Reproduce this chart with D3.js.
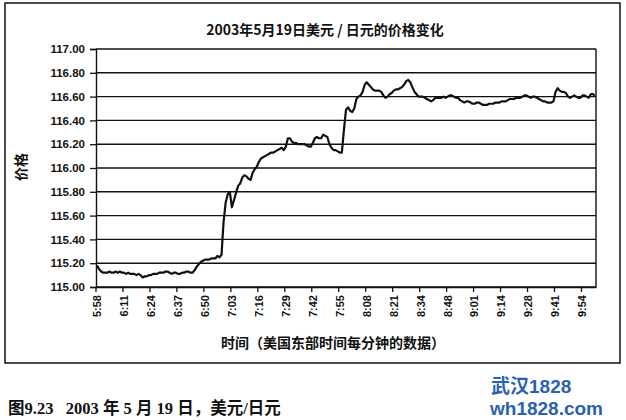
<!DOCTYPE html>
<html><head><meta charset="utf-8">
<script src="https://cdn.jsdelivr.net/npm/d3@7"></script>
<style>body{margin:0;background:#fff;}svg{display:block;}</style>
</head><body>
<script>
const title = "2003年5月19日美元 / 日元的价格变化";
const yTitle = "价格";
const xTitle = "时间（美国东部时间每分钟的数据）";
const caption = "图9.23   2003 年 5 月 19 日，美元/日元";
const startTime = "5:58";
const skippedMinutes = ["8:40", "9:20"];
const tickLabels = ["5:58","6:11","6:24","6:37","6:50","7:03","7:16","7:29","7:42","7:55","8:08","8:21","8:34","8:48","9:01","9:14","9:28","9:41","9:54"];
const yTicks = [115.00,115.20,115.40,115.60,115.80,116.00,116.20,116.40,116.60,116.80,117.00];
const prices = [
115.18,115.15,115.13,115.12,115.12,115.12,115.13,115.12,115.12,115.13,
115.12,115.13,115.12,115.12,115.11,115.12,115.11,115.11,115.11,115.10,
115.11,115.10,115.08,115.09,115.09,115.10,115.10,115.11,115.11,115.11,
115.12,115.12,115.12,115.13,115.13,115.12,115.11,115.12,115.12,115.11,
115.11,115.12,115.12,115.13,115.13,115.12,115.12,115.14,115.17,115.19,
115.21,115.22,115.23,115.23,115.23,115.24,115.24,115.24,115.26,115.25,
115.27,115.55,115.71,115.78,115.80,115.67,115.73,115.79,115.85,115.87,
115.92,115.94,115.93,115.91,115.90,115.96,115.99,116.01,116.05,116.08,
116.09,116.10,116.11,116.12,116.13,116.13,116.14,116.15,116.16,116.17,
116.15,116.18,116.25,116.25,116.22,116.21,116.21,116.20,116.20,116.20,
116.20,116.19,116.18,116.18,116.21,116.25,116.26,116.25,116.25,116.28,
116.27,116.26,116.20,116.17,116.15,116.15,116.14,116.13,116.13,116.32,
116.49,116.51,116.48,116.47,116.50,116.58,116.60,116.61,116.64,116.70,
116.72,116.70,116.68,116.66,116.65,116.65,116.65,116.64,116.61,116.59,
116.60,116.62,116.63,116.65,116.66,116.66,116.67,116.68,116.70,116.73,
116.74,116.72,116.68,116.64,116.62,116.60,116.60,116.60,116.59,116.58,
116.57,116.56,116.57,116.59,116.59,116.59,116.59,116.60,116.59,116.60,
116.61,116.61,116.60,116.59,116.59,116.57,116.56,116.55,116.56,116.56,
116.55,116.54,116.54,116.55,116.55,116.54,116.53,116.53,116.53,116.54,
116.54,116.54,116.55,116.55,116.55,116.56,116.56,116.56,116.57,116.58,
116.58,116.58,116.59,116.59,116.59,116.60,116.61,116.61,116.60,116.59,
116.60,116.60,116.59,116.58,116.57,116.56,116.56,116.55,116.55,116.55,
116.56,116.64,116.67,116.65,116.64,116.64,116.63,116.60,116.59,116.60,
116.61,116.60,116.59,116.59,116.61,116.61,116.60,116.59,116.62,116.62,
116.61
];

// build minute categories (one per price), skipping missing minutes
function toMin(s){const [h,m]=s.split(":").map(Number);return h*60+m;}
function fmt(t){return Math.floor(t/60)+":"+String(t%60).padStart(2,"0");}
const categories = [];
{ let t = toMin(startTime);
  while (categories.length < prices.length) {
    const s = fmt(t);
    if (!skippedMinutes.includes(s)) categories.push(s);
    t++;
  }
}
const data = categories.map((c,i)=>({t:c, v:prices[i]}));

const W=626,H=420;
const svg=d3.select("body").append("svg").attr("width",W).attr("height",H);
const latin='"Liberation Sans", Arial, "Noto Sans CJK SC", sans-serif';
const cjk='"Noto Sans CJK SC", "Liberation Sans", sans-serif';

// outer frame
svg.append("rect").attr("x",5).attr("y",3).attr("width",615).attr("height",360)
  .attr("fill","none").attr("stroke","#111").attr("stroke-width",1.5);

const L=96,R=596,T=49,B=287;
const x=d3.scaleBand().domain(categories).range([L,R]).paddingInner(0).paddingOuter(0);
const y=d3.scaleLinear().domain([115,117]).range([B,T]);
const cx=c=>x(c)+x.bandwidth()/2;

// gridlines
svg.append("g").selectAll("line").data(yTicks).join("line")
  .attr("x1",L).attr("x2",R).attr("y1",d=>y(d)).attr("y2",d=>y(d))
  .attr("stroke","#111").attr("stroke-width",1.4);
// right border
svg.append("line").attr("x1",R).attr("x2",R).attr("y1",T).attr("y2",B).attr("stroke","#111").attr("stroke-width",1.4);

// y axis
const yAxis=svg.append("g").attr("transform",`translate(${L},0)`)
  .call(d3.axisLeft(y).tickValues(yTicks).tickFormat(d3.format(".2f")).tickSize(6).tickPadding(5));
yAxis.select(".domain").attr("stroke","#111").attr("stroke-width",1.4);
yAxis.selectAll(".tick line").attr("stroke","#111").attr("stroke-width",1.3);
yAxis.selectAll("text").attr("font-family",latin).attr("font-weight","bold").attr("font-size",11.5).attr("fill","#111");

// x axis
const xAxis=svg.append("g").attr("transform",`translate(0,${B})`)
  .call(d3.axisBottom(x).tickValues(tickLabels).tickSize(0).tickFormat(d=>d));
xAxis.select(".domain").attr("stroke","#111").attr("stroke-width",1.4);
xAxis.selectAll(".tick text").attr("font-family",latin).attr("font-weight","bold").attr("font-size",11).attr("fill","#111")
  .attr("transform","rotate(-90)").attr("text-anchor","end").attr("dy","0.35em").attr("x",-8).attr("y",0);
// tick marks at category boundaries
svg.append("g").selectAll("line").data(tickLabels).join("line")
  .attr("x1",d=>x(d)).attr("x2",d=>x(d)).attr("y1",B).attr("y2",B+5)
  .attr("stroke","#111").attr("stroke-width",1.3);

// line
svg.append("path").datum(data)
  .attr("d",d3.line().x(d=>cx(d.t)).y(d=>y(d.v)).curve(d3.curveLinear))
  .attr("fill","none").attr("stroke","#111").attr("stroke-width",2.2).attr("stroke-linejoin","round");

// titles
svg.append("text").attr("x",325).attr("y",35).attr("text-anchor","middle")
  .attr("font-family",cjk).attr("font-weight","bold").attr("font-size",14).attr("fill","#111").text(title);
svg.append("text").attr("transform","translate(26,167) rotate(-90)").attr("text-anchor","middle")
  .attr("font-family",cjk).attr("font-weight","bold").attr("font-size",14).attr("fill","#111").text(yTitle);
svg.append("text").attr("x",333).attr("y",348).attr("text-anchor","middle")
  .attr("font-family",cjk).attr("font-weight","bold").attr("font-size",14).attr("fill","#111").text(xTitle);

// caption
svg.append("text").attr("x",8).attr("y",414).style("white-space","pre")
  .attr("font-family",'"Liberation Serif", "Noto Sans CJK SC", serif').attr("font-weight","bold").attr("font-size",16.5).attr("fill","#111").text(caption);

// watermark
svg.append("text").attr("x",491).attr("y",393)
  .attr("font-family",'"Liberation Sans", "Noto Sans CJK SC", sans-serif').attr("font-weight","bold").attr("font-size",19).attr("fill","#2a62b0").text("武汉1828");
svg.append("text").attr("x",490).attr("y",415)
  .attr("font-family",'"Liberation Sans", sans-serif').attr("font-weight","bold").attr("font-size",19).attr("fill","#2a62b0").text("wh1828.com");
</script>
</body></html>
